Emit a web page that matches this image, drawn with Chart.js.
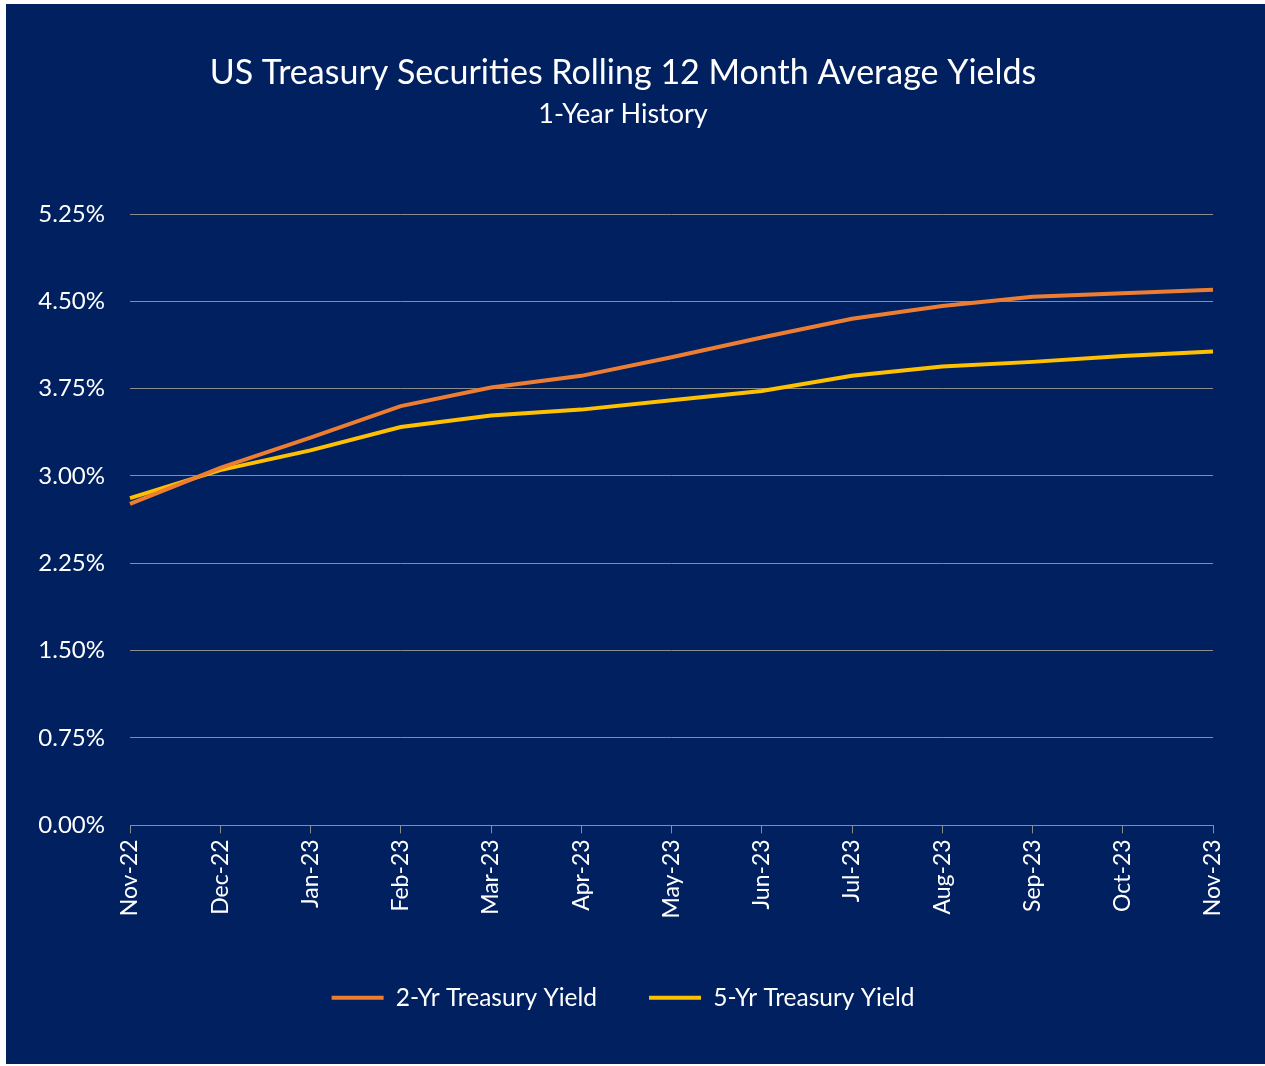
<!DOCTYPE html>
<html>
<head>
<meta charset="utf-8">
<script src="https://cdn.jsdelivr.net/npm/chart.js@4.4.0/dist/chart.umd.min.js"></script>
<style>
  html, body { margin: 0; padding: 0; background: #ffffff; }
  #wrap { position: absolute; left: 6px; top: 4px; width: 1259px; height: 1060px; background: #002060; }
  canvas { display: block; }
</style>
</head>
<body>
<div id="wrap"><canvas id="c" width="1259" height="1060"></canvas></div>
<script>
const titleText = "US Treasury Securities Rolling 12 Month Average Yields";
const subtitleText = "1-Year History";
const categories = ["Nov-22","Dec-22","Jan-23","Feb-23","Mar-23","Apr-23","May-23","Jun-23","Jul-23","Aug-23","Sep-23","Oct-23","Nov-23"];
const yield2Yr = [2.76, 3.07, 3.33, 3.60, 3.76, 3.86, 4.02, 4.19, 4.35, 4.46, 4.54, 4.57, 4.60];
const yield5Yr = [2.81, 3.05, 3.22, 3.42, 3.52, 3.57, 3.65, 3.73, 3.86, 3.94, 3.98, 4.03, 4.07];
const seriesNames = ["2-Yr Treasury Yield", "5-Yr Treasury Yield"];
const yTicks = [0, 0.75, 1.5, 2.25, 3.0, 3.75, 4.5, 5.25];

const FONT = "Lato, 'Open Sans', sans-serif";
const gridColor = "#8c8c8c";

new Chart(document.getElementById("c"), {
  type: "line",
  data: {
    labels: categories,
    datasets: [
      { label: seriesNames[0], data: yield2Yr, borderColor: "#ED7D31", backgroundColor: "#ED7D31", borderWidth: 4, pointRadius: 0, tension: 0 },
      { label: seriesNames[1], data: yield5Yr, borderColor: "#FFC000", backgroundColor: "#FFC000", borderWidth: 4, pointRadius: 0, tension: 0 }
    ]
  },
  options: {
    responsive: false,
    animation: false,
    devicePixelRatio: 1,
    layout: { padding: { left: 27, right: 52, top: 0, bottom: 44 } },
    plugins: {
      title: { display: true, text: titleText, color: "#ffffff", font: { family: FONT, size: 34, weight: "normal" }, padding: { top: 48.6, bottom: 0 } },
      subtitle: { display: true, text: subtitleText, color: "#ffffff", font: { family: FONT, size: 27, weight: "normal" }, padding: { top: 4.4, bottom: 83.8 } },
      legend: {
        position: "bottom",
        labels: {
          color: "#ffffff",
          font: { family: FONT, size: 24.5 },
          boxWidth: 52,
          boxHeight: 4,
          padding: 52,
          generateLabels: (chart) => chart.data.datasets.map((ds, i) => ({
            text: ds.label, fillStyle: ds.borderColor, strokeStyle: ds.borderColor, lineWidth: 0,
            fontColor: "#ffffff", datasetIndex: i, hidden: false
          }))
        }
      },
      tooltip: { enabled: false }
    },
    scales: {
      x: {
        offset: false,
        grid: { display: true, drawOnChartArea: false, drawTicks: true, tickLength: 8, color: gridColor },
        border: { display: true, color: gridColor, width: 1 },
        ticks: { color: "#ffffff", font: { family: FONT, size: 23 }, minRotation: 90, maxRotation: 90, padding: 6, autoSkip: false },
        afterFit: (s) => { s.height = 108.2; }
      },
      y: {
        min: 0, max: 5.25,
        afterBuildTicks: (s) => { s.ticks = yTicks.map(v => ({ value: v })); },
        grid: { color: gridColor, drawTicks: false, lineWidth: 1 },
        border: { display: false },
        ticks: { color: "#ffffff", font: { family: FONT, size: 24 }, padding: 25, callback: (v) => Number(v).toFixed(2) + "%" },
        afterFit: (s) => { s.width = 97; }
      }
    }
  }
});
</script>
</body>
</html>
